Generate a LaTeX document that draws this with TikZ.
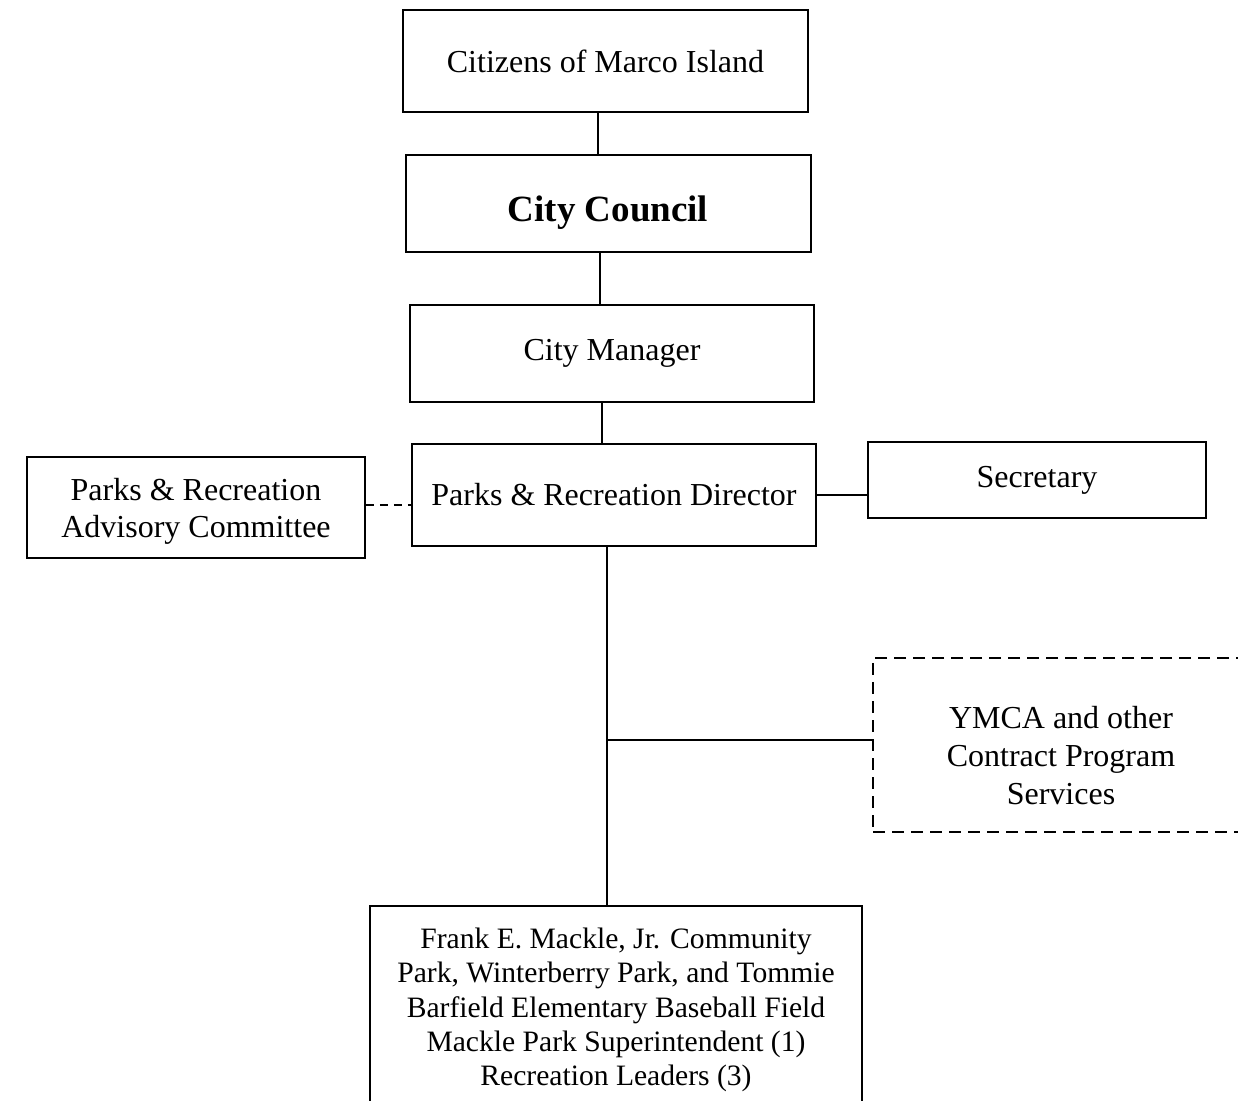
\documentclass[tikz,border=0pt]{standalone}
\usepackage{fontspec}
\setmainfont{Liberation Serif}
\begin{document}
\begin{tikzpicture}[x=0.5pt,y=-0.5pt,
  box/.style={draw, line width=0.9pt, rectangle, inner sep=0pt, align=center,
    font=\fontsize{16}{18.5}\selectfont},
  frame/.style={draw, line width=0.9pt, rectangle, inner sep=0pt},
  txt/.style={inner sep=0pt, align=center, font=\fontsize{16}{18.5}\selectfont},
  link/.style={line width=0.9pt},
  dlink/.style={line width=0.9pt, dash pattern=on 4pt off 3pt}]
\clip (0,0) rectangle (1238,1101);
\fill[white] (0,0) rectangle (1238,1101);

% offices, top to bottom
\node[box, minimum width=202.5pt, minimum height=51pt] (cit) at (605.5,61) {Citizens of Marco Island};
\node[frame, minimum width=202.5pt, minimum height=48.5pt] (cc) at (608.5,203.5) {};
\node[txt, font=\fontsize{18.5}{20}\selectfont\bfseries] (cct) at (608,213) {City Council};
\node[box, minimum width=202pt, minimum height=48.5pt] (cm) at (612,353.5) {City Manager};
\node[box, minimum width=202pt, minimum height=51pt] (dir) at (614,495) {Parks \& Recreation Director};
\node[frame, minimum width=169pt, minimum height=50.5pt] (adv) at (196,507.5) {};
\node[txt] (advt) at (196,511) {Parks \& Recreation\\Advisory Committee};
\node[box, minimum width=169pt, minimum height=38pt] (sec) at (1037,480) {Secretary};
\node[frame, dash pattern=on 6pt off 3.5pt, minimum width=188pt, minimum height=87pt] (ymca) at (1061,745) {};
\node[txt, font=\fontsize{16}{19}\selectfont] (ymcat) at (1061,756) {YMCA and other\\Contract Program\\Services};
\node[frame, minimum width=246pt, minimum height=108pt] (bot) at (616,1014) {};
\node[txt, font=\fontsize{14.8}{17.1}\selectfont] (bott) at (616,1010)
  {Frank E. Mackle, Jr. Community\\Park, Winterberry Park, and Tommie\\Barfield Elementary Baseball Field\\Mackle Park Superintendent (1)\\Recreation Leaders (3)};

% reporting lines
\coordinate (a) at (598,0);
\coordinate (b) at (600,0);
\coordinate (c) at (602,0);
\coordinate (j) at (607,740);
\draw[link] (a |- cit.south) -- (a |- cc.north);
\draw[link] (b |- cc.south) -- (b |- cm.north);
\draw[link] (c |- cm.south) -- (c |- dir.north);
\draw[link] (j |- dir.south) -- (j |- bot.north);
\draw[link] (j) -- (j -| ymca.west);
\draw[dlink] (adv.east |- 0,505) -- (dir.west |- 0,505);
\draw[link] (dir.east |- 0,495) -- (sec.west |- 0,495);
\end{tikzpicture}
\end{document}
